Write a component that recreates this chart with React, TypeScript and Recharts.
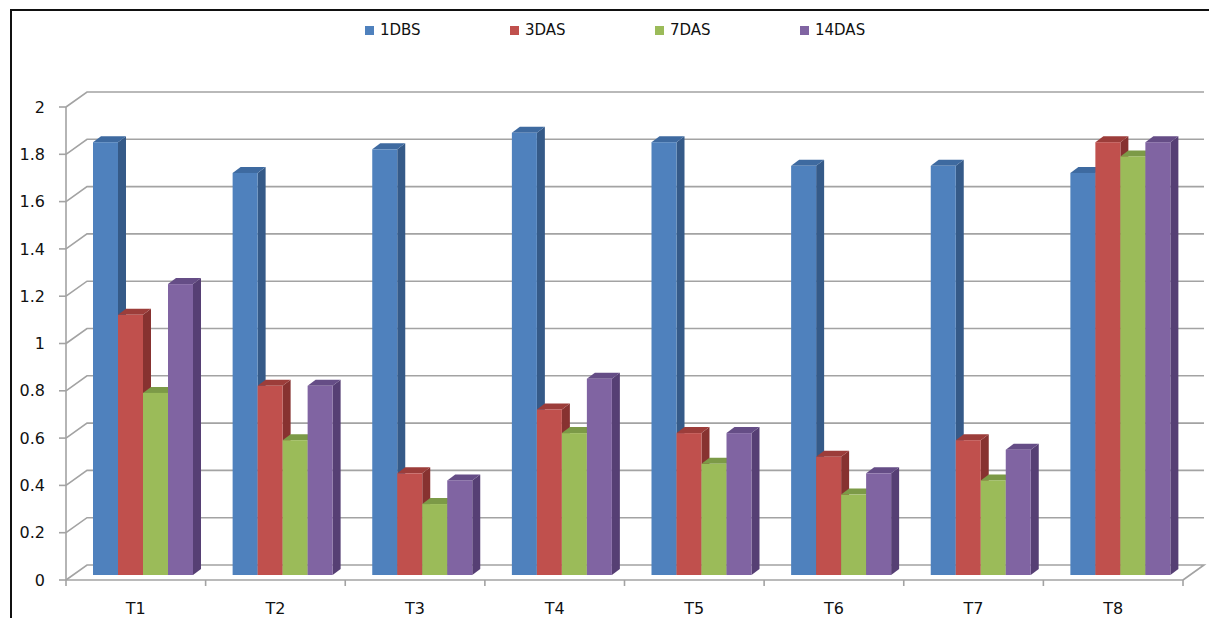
import { Bar, BarChart, CartesianGrid, Legend, XAxis, YAxis } from "recharts";

const categories = ["T1", "T2", "T3", "T4", "T5", "T6", "T7", "T8"];
const seriesNames = ["1DBS", "3DAS", "7DAS", "14DAS"];
const dbs1 = [1.83, 1.7, 1.8, 1.87, 1.83, 1.73, 1.73, 1.7];
const das3 = [1.1, 0.8, 0.43, 0.7, 0.6, 0.5, 0.57, 1.83];
const das7 = [0.77, 0.57, 0.3, 0.6, 0.47, 0.34, 0.4, 1.77];
const das14 = [1.23, 0.8, 0.4, 0.83, 0.6, 0.43, 0.53, 1.83];
const yTicks = [0, 0.2, 0.4, 0.6, 0.8, 1, 1.2, 1.4, 1.6, 1.8, 2];

const W = 1209;
const H = 618;
const PLOT_LEFT = 66;
const PLOT_RIGHT = 1183;
const PLOT_BOTTOM = 580;
const WALL_DX = 21;
const WALL_DY = 15;
const BAR_DX = 7;
const BAR_DY = 5;
const DEPTH_X = 8;
const DEPTH_Y = 6;
const GRID = "#a3a3a3";
const FONT = "'DejaVu Sans', sans-serif";

// front / side / top shades per series
const colors: Record<string, [string, string, string]> = {
  "1DBS": ["#4f81bd", "#355a88", "#3e6aa0"],
  "3DAS": ["#c0504d", "#873230", "#9c3d3a"],
  "7DAS": ["#9bbb59", "#6d8a3c", "#7c9a47"],
  "14DAS": ["#8064a2", "#563f74", "#654d86"],
};

const data = categories.map((name, i) => ({
  name,
  "1DBS": dbs1[i],
  "3DAS": das3[i],
  "7DAS": das7[i],
  "14DAS": das14[i],
}));

const makeBox = (key: string) => (props: any) => {
  const { x, y, width, height } = props;
  if (!height || height <= 0) return <g />;
  const [front, side, top] = colors[key];
  const fx = x + BAR_DX;
  const fy = y - BAR_DY;
  const fb = fy + height;
  return (
    <g>
      <polygon
        points={`${fx + width},${fy} ${fx + width + DEPTH_X},${fy - DEPTH_Y} ${fx + width + DEPTH_X},${fb - DEPTH_Y} ${fx + width},${fb}`}
        fill={side}
      />
      <polygon
        points={`${fx},${fy} ${fx + DEPTH_X},${fy - DEPTH_Y} ${fx + width + DEPTH_X},${fy - DEPTH_Y} ${fx + width},${fy}`}
        fill={top}
      />
      <rect x={fx} y={fy} width={width} height={height} fill={front} />
    </g>
  );
};

const gridLine = (p: any) => {
  const isFloor = Math.abs(p.y1 - (p.y + p.height)) < 1;
  let d = `M${p.x1},${p.y1} L${p.x1 + WALL_DX},${p.y1 - WALL_DY} L${p.x2 + WALL_DX},${p.y1 - WALL_DY}`;
  if (isFloor) d += ` L${p.x2},${p.y2}`;
  return <path key={p.key} d={d} fill="none" stroke={GRID} strokeWidth={1.6} />;
};

const XTick = ({ x, payload, index }: any) => {
  const band = (PLOT_RIGHT - PLOT_LEFT) / categories.length;
  const left = x - band / 2;
  return (
    <g>
      <line x1={left} y1={PLOT_BOTTOM} x2={left} y2={PLOT_BOTTOM + 6} stroke={GRID} strokeWidth={1.6} />
      {index === categories.length - 1 && (
        <line x1={x + band / 2} y1={PLOT_BOTTOM} x2={x + band / 2} y2={PLOT_BOTTOM + 6} stroke={GRID} strokeWidth={1.6} />
      )}
      <text x={x} y={PLOT_BOTTOM + 34} textAnchor="middle" fontSize={16} fill="#111" fontFamily={FONT}>
        {payload.value}
      </text>
    </g>
  );
};

const LegendContent = () => (
  <div style={{ position: "relative", height: 24, fontFamily: FONT, fontSize: 15, color: "#111" }}>
    {seriesNames.map((n, i) => (
      <div
        key={n}
        style={{ position: "absolute", left: 365 + i * 145, top: 0, height: 24, display: "flex", alignItems: "center" }}
      >
        <span style={{ width: 9, height: 9, background: colors[n][0], marginRight: 6, display: "inline-block" }} />
        <span>{n}</span>
      </div>
    ))}
  </div>
);

export default function App() {
  return (
    <div style={{ position: "relative", width: W, height: H, background: "#fff" }}>
      <style>{`body{margin:0}`}</style>
      <div
        style={{
          position: "absolute",
          left: 10,
          top: 9,
          width: W - 10,
          height: H - 9,
          borderTop: "2px solid #111",
          borderLeft: "2px solid #111",
          boxSizing: "border-box",
        }}
      />
      <BarChart
        width={W}
        height={H}
        data={data}
        margin={{ top: 107, right: 26, bottom: 8, left: 6 }}
        barSize={25}
        barGap={0}
      >
        <CartesianGrid horizontal={gridLine} vertical={false} />
        <XAxis
          dataKey="name"
          height={30}
          interval={0}
          tickLine={false}
          axisLine={{ stroke: GRID, strokeWidth: 1.6 }}
          tick={<XTick />}
        />
        <YAxis
          width={60}
          domain={[0, 2]}
          ticks={yTicks}
          interval={0}
          tickSize={7}
          tickMargin={14}
          axisLine={{ stroke: GRID, strokeWidth: 1.6 }}
          tickLine={{ stroke: GRID, strokeWidth: 1.6 }}
          tick={{ fontSize: 16, fill: "#111", fontFamily: FONT }}
        />
        <Legend
          layout="horizontal"
          verticalAlign="middle"
          align="center"
          wrapperStyle={{ top: 18, left: 0, width: W }}
          content={<LegendContent />}
        />
        {seriesNames.map((n) => (
          <Bar key={n} dataKey={n} fill={colors[n][0]} shape={makeBox(n)} isAnimationActive={false} />
        ))}
      </BarChart>
    </div>
  );
}
